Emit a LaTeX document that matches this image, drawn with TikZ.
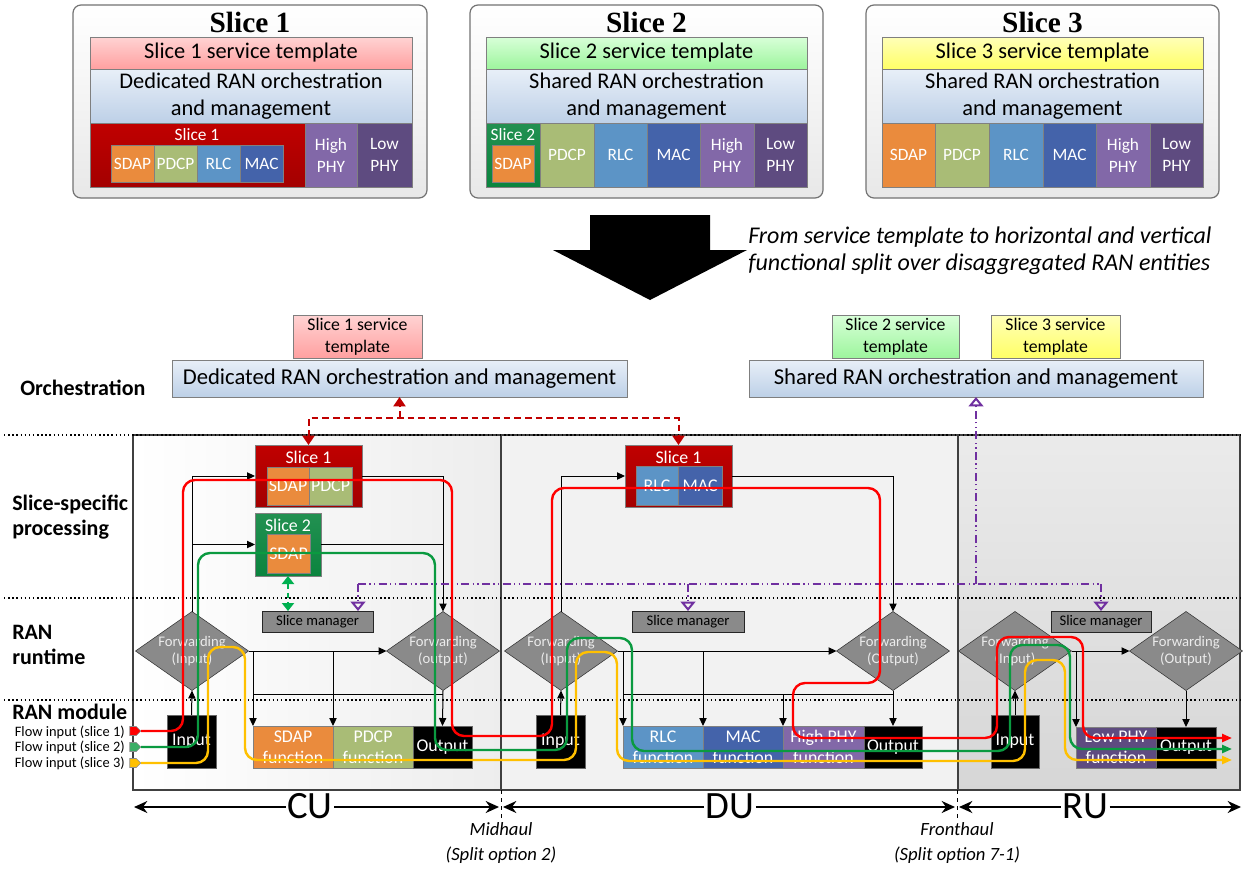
\documentclass[tikz,border=0pt]{standalone}
\usepackage{fontspec}
\setmainfont{Carlito}
\newfontfamily\ttlfont{Liberation Serif}
\usetikzlibrary{shapes.geometric,shapes.symbols,arrows.meta,calc}

\definecolor{sOneT}{HTML}{FFD3D3}
\definecolor{sOneB}{HTML}{FFA0A0}
\definecolor{sTwoT}{HTML}{D8FFD8}
\definecolor{sTwoB}{HTML}{9DF59D}
\definecolor{sThrT}{HTML}{FFFFB8}
\definecolor{sThrB}{HTML}{FFFF66}
\definecolor{orT}{HTML}{E8EFF8}
\definecolor{orB}{HTML}{BDD0E7}
\definecolor{cSDAP}{HTML}{EA8B3D}
\definecolor{cPDCP}{HTML}{A9BC76}
\definecolor{cRLC}{HTML}{5C94C6}
\definecolor{cMAC}{HTML}{4463AA}
\definecolor{cHPHY}{HTML}{8268A8}
\definecolor{cLPHY}{HTML}{5E4B80}
\definecolor{slRed}{HTML}{C00000}
\definecolor{slGreen}{HTML}{0A843E}
\definecolor{fwdGray}{HTML}{8A8A8A}
\definecolor{flRed}{HTML}{FF0000}
\definecolor{flGreen}{HTML}{0A9A40}
\definecolor{flYel}{HTML}{FFC000}
\definecolor{dRed}{HTML}{C00000}
\definecolor{purp}{HTML}{7030A0}
\definecolor{gDash}{HTML}{00B050}
\definecolor{bGray}{HTML}{7F7F7F}

\newcommand\szTtl{\fontsize{22}{26}\selectfont}
\newcommand\szBar{\fontsize{16.8}{20}\selectfont}
\newcommand\szOrc{\fontsize{17}{20}\selectfont}
\newcommand\szSm{\fontsize{13}{16.5}\selectfont}
\newcommand\szIt{\fontsize{18}{20.25}\selectfont}
\newcommand\szTm{\fontsize{13.3}{16.5}\selectfont}
\newcommand\szLbl{\fontsize{16.5}{19}\selectfont}
\newcommand\szFlow{\fontsize{10.8}{13}\selectfont}
\newcommand\szMod{\fontsize{13.4}{15.75}\selectfont}
\newcommand\szFwd{\fontsize{11}{13}\selectfont}
\newcommand\szMgr{\fontsize{11}{13}\selectfont}
\newcommand\szAx{\fontsize{29}{32}\selectfont}
\newcommand\szSp{\fontsize{14}{19}\selectfont}

\newcommand\bx[7]{\node[#1, minimum width={(#5-#3)*0.75pt}, minimum height={(#6-#4)*0.75pt}] (#2) at ({(#3+#5)/2},{(#4+#6)/2}) {#7};}

\tikzset{
  bxb/.style={draw=bGray, line width=0.6pt, inner sep=0pt, outer sep=0pt, align=center},
  outerbox/.style={bxb, rounded corners=6pt, top color=white, bottom color=black!9, draw=black!55, line width=0.9pt},
  ttl/.style={font=\ttlfont\bfseries\szTtl, inner sep=0pt},
  tmA/.style={bxb, top color=sOneT, bottom color=sOneB},
  tmB/.style={bxb, top color=sTwoT, bottom color=sTwoB},
  tmC/.style={bxb, top color=sThrT, bottom color=sThrB},
  orb/.style={bxb, top color=orT, bottom color=orB},
  fn/.style={bxb, draw=black!50, text=white},
  smf/.style={fn, font=\szSm},
  mdf/.style={fn, font=\szMod},
  wt/.style={text=white, font=\szSm, inner sep=0pt},
  wtm/.style={text=white, font=\szMod, inner sep=0pt},
  redg/.style={bxb, draw=black!50, top color=slRed, bottom color=slRed!85!black},
  greeng/.style={bxb, draw=black!50, top color=slGreen!90!white, bottom color=slGreen},
  blackbox/.style={bxb, draw=black!60, fill=black, text=white, font=\szMod},
  lbl/.style={font=\bfseries\szLbl, inner sep=0pt, align=left, anchor=west},
  flowlbl/.style={font=\szFlow, inner sep=0pt, anchor=east},
  fwd/.style={shape=diamond, draw=black!80, fill=fwdGray, minimum width={113*0.75pt}, minimum height={79*0.75pt}, inner sep=0pt, outer sep=0pt},
  fwdt/.style={text=black!8, font=\szFwd, align=center, inner sep=0pt},
  smg/.style={bxb, draw=black!85, fill=fwdGray, font=\szMgr},
  panel/.style={bxb, draw=black!75, line width=1.1pt},
  sepline/.style={dotted, line width=1.1pt, black},
  blk/.style={black, line width=0.75pt},
  blkarr/.style={blk, -{Triangle[length=6pt,width=5.5pt]}},
  flowline/.style={line width=1.8pt, rounded corners=9pt, -{Triangle[length=7.5pt,width=6pt]}},
  marker/.style={shape=signal, signal to=east, draw=black!45, line width=0.4pt, minimum width={11*0.75pt}, minimum height={9*0.75pt}, inner sep=0pt},
  rdash/.style={dRed, line width=1.5pt, dash pattern=on 5pt off 3pt},
  purpl/.style={purp, line width=1.5pt, dash pattern=on 6pt off 2.5pt on 1pt off 2.5pt on 1pt off 2.5pt},
  purparr/.style={purpl, -{Triangle[open,length=7pt,width=11pt,line width=1.5pt]}},
  axlbl/.style={font=\szAx, fill=white, inner sep=1pt},
  axarr/.style={line width=1.4pt, -{Stealth[length=10pt,width=9pt]}},
  splbl/.style={font=\itshape\szSp, align=center, inner sep=0pt}
}

\begin{document}
\begin{tikzpicture}[x=0.75pt,y=-0.75pt]
\useasboundingbox (0,0) rectangle (1244,868);
\fill[white] (0,0) rectangle (1244,868);

% ---------------- Top slices ----------------
% Slice 1
\bx{outerbox}{slA}{73}{5}{427}{198}{}
\node[ttl] (slAt) at (250,22) {Slice 1};
\bx{tmA,font=\szBar}{slAtm}{90}{37}{412}{69}{Slice 1 service template}
\bx{orb,font=\szBar}{slAor}{90}{69}{412}{123}{Dedicated RAN orchestration\\and management}
\bx{redg}{slArd}{90}{123}{305}{187}{}
\node[wt] (slArdl) at (197,135) {Slice 1};
\bx{smf,fill=cSDAP}{slAa}{111}{145}{154}{182}{SDAP}
\bx{smf,fill=cPDCP}{slAb}{154}{145}{197}{182}{PDCP}
\bx{smf,fill=cRLC}{slAc}{197}{145}{240}{182}{RLC}
\bx{smf,fill=cMAC}{slAd}{240}{145}{283}{182}{MAC}
\bx{smf,fill=cHPHY}{slAe}{305}{123}{357}{187}{High\\PHY}
\bx{smf,fill=cLPHY}{slAf}{357}{123}{412}{187}{Low\\PHY}
% Slice 2
\bx{outerbox}{slB}{470}{5}{823}{198}{}
\node[ttl] (slBt) at (646.5,22) {Slice 2};
\bx{tmB,font=\szBar}{slBtm}{486}{37}{807}{69}{Slice 2 service template}
\bx{orb,font=\szBar}{slBor}{486}{69}{807}{123}{Shared RAN orchestration\\and management}
\bx{greeng}{slBgr}{486}{123}{540}{187}{}
\node[wt] (slBgrl) at (513,135) {Slice 2};
\bx{smf,fill=cSDAP}{slBa}{492}{145}{534}{182}{SDAP}
\bx{smf,fill=cPDCP}{slBb}{540}{123}{594}{187}{PDCP}
\bx{smf,fill=cRLC}{slBc}{594}{123}{647}{187}{RLC}
\bx{smf,fill=cMAC}{slBd}{647}{123}{700}{187}{MAC}
\bx{smf,fill=cHPHY}{slBe}{700}{123}{754}{187}{High\\PHY}
\bx{smf,fill=cLPHY}{slBf}{754}{123}{807}{187}{Low\\PHY}
% Slice 3
\bx{outerbox}{slC}{866}{5}{1219}{198}{}
\node[ttl] (slCt) at (1042.5,22) {Slice 3};
\bx{tmC,font=\szBar}{slCtm}{882}{37}{1203}{69}{Slice 3 service template}
\bx{orb,font=\szBar}{slCor}{882}{69}{1203}{123}{Shared RAN orchestration\\and management}
\bx{smf,fill=cSDAP}{slCa}{882}{123}{935}{187}{SDAP}
\bx{smf,fill=cPDCP}{slCb}{935}{123}{989}{187}{PDCP}
\bx{smf,fill=cRLC}{slCc}{989}{123}{1043}{187}{RLC}
\bx{smf,fill=cMAC}{slCd}{1043}{123}{1096}{187}{MAC}
\bx{smf,fill=cHPHY}{slCe}{1096}{123}{1150}{187}{High\\PHY}
\bx{smf,fill=cLPHY}{slCf}{1150}{123}{1203}{187}{Low\\PHY}

% big arrow
\fill[black] (590,215) -- (710,215) -- (710,250) -- (747,250) -- (650,300) -- (553,250) -- (590,250) -- cycle;
\node[font=\itshape\szIt, align=left, anchor=west, inner sep=0pt] (bigtxt) at (748,251) {From service template to horizontal and vertical\\functional split over disaggregated RAN entities};

% ---------------- Orchestration ----------------
\bx{tmA,font=\szTm}{oA}{293}{315}{422}{358}{Slice 1 service\\template}
\bx{orb,font=\szOrc}{ded}{172}{360}{627}{397}{Dedicated RAN orchestration and management}
\bx{tmB,font=\szTm}{oB}{832}{315}{959}{358}{Slice 2 service\\template}
\bx{tmC,font=\szTm}{oC}{991}{315}{1120}{358}{Slice 3 service\\template}
\bx{orb,font=\szOrc}{shared}{749}{360}{1203}{397}{Shared RAN orchestration and management}

% left labels
\node[lbl] (lOrch) at (20,388) {Orchestration};
\node[lbl] (lSlice) at (12,517) {Slice-specific\\processing};
\node[lbl] (lRun) at (12,645) {RAN\\runtime};
\node[lbl] (lMod) at (12,712) {RAN module};
\node[flowlbl] (lf1) at (125,732) {Flow input (slice 1)};
\node[flowlbl] (lf2) at (125,747) {Flow input (slice 2)};
\node[flowlbl] (lf3) at (125,763) {Flow input (slice 3)};

% ---------------- Panels ----------------
\bx{panel, left color=white, right color=black!7}{cu}{133}{435}{501}{790}{}
\bx{panel, fill=black!5}{du}{501}{435}{958}{790}{}
\bx{panel, top color=black!8, bottom color=black!16}{ru}{958}{435}{1240}{790}{}

\draw[sepline] (4,435) -- (1240,435);
\draw[sepline] (4,598) -- (1240,598);
\draw[sepline] (4,700) -- (1240,700);

% ---------------- CU ----------------
\bx{redg}{cuS1}{255}{445}{362}{507}{}
\node[wtm] (cuS1l) at (308.5,457) {Slice 1};
\bx{mdf,fill=cSDAP}{cuS1a}{267}{467}{309}{505}{SDAP}
\bx{mdf,fill=cPDCP}{cuS1b}{309}{467}{352}{505}{PDCP}
\bx{greeng}{cuS2}{255}{513}{321}{576}{}
\node[wtm] (cuS2l) at (288,525) {Slice 2};
\bx{mdf,fill=cSDAP}{cuS2a}{267}{534}{310}{573}{SDAP}

\node[fwd] (cuFin) at (192,651) {};
\node[fwdt] (cuFinT) at (cuFin) {Forwarding\\(Input)};
\node[fwd] (cuFout) at (443,651) {};
\node[fwdt] (cuFoutT) at (cuFout) {Forwarding\\(output)};
\bx{smg}{cuSM}{262}{611}{373}{632}{Slice manager}

\bx{blackbox}{cuIn}{167}{715}{216}{768}{Input}
\bx{mdf,fill=cSDAP}{cuF1}{253}{726}{333}{768}{SDAP\\function}
\bx{mdf,fill=cPDCP}{cuF2}{333}{726}{413}{768}{PDCP\\function}
\bx{blackbox}{cuOut}{413}{726}{472}{768}{Output}

% ---------------- DU ----------------
\bx{redg}{duS1}{625}{445}{732}{507}{}
\node[wtm] (duS1l) at (678.5,457) {Slice 1};
\bx{mdf,fill=cRLC}{duS1a}{636}{466}{678}{505}{RLC}
\bx{mdf,fill=cMAC}{duS1b}{678}{466}{722}{505}{MAC}

\node[fwd] (duFin) at (561,651) {};
\node[fwdt] (duFinT) at (duFin) {Forwarding\\(Input)};
\node[fwd] (duFout) at (893,651) {};
\node[fwdt] (duFoutT) at (duFout) {Forwarding\\(Output)};
\bx{smg}{duSM}{632}{611}{744}{632}{Slice manager}

\bx{blackbox}{duIn}{536}{715}{585}{768}{Input}
\bx{mdf,fill=cRLC}{duF1}{623}{726}{703}{768}{RLC\\function}
\bx{mdf,fill=cMAC}{duF2}{703}{726}{783}{768}{MAC\\function}
\bx{mdf,fill=cHPHY}{duF3}{783}{726}{864}{768}{High PHY\\function}
\bx{blackbox}{duOut}{864}{726}{922}{768}{Output}

% ---------------- RU ----------------
\node[fwd] (ruFin) at (1015,651) {};
\node[fwdt] (ruFinT) at (ruFin) {Forwarding\\(Input)};
\node[fwd] (ruFout) at (1186,651) {};
\node[fwdt] (ruFoutT) at (ruFout) {Forwarding\\(Output)};
\bx{smg}{ruSM}{1051}{611}{1151}{632}{Slice manager}

\bx{blackbox}{ruIn}{991}{715}{1039}{768}{Input}
\bx{mdf,fill=cLPHY}{ruF1}{1076}{727}{1156}{768}{Low PHY\\function}
\bx{blackbox}{ruOut}{1156}{727}{1216}{768}{Output}

% ---------------- black runtime arrows ----------------
\coordinate (retY) at (0,694);
% CU
\draw[blkarr] (cuIn.north) -- (cuFin.south);
\draw[blkarr] (cuFin.north) |- (cuS1.west);
\draw[blkarr] (cuFin.north |- cuS2.west) -- (cuS2.west);
\draw[blkarr] (cuS1.east) -| (cuFout.north);
\draw[blk] (cuS2.east) -- (cuFout.north |- cuS2.east);
\draw[blkarr] (cuFin.east) -- (cuFout.west);
\draw[blkarr] (cuF1.north west |- cuFin.east) -- (cuF1.north west);
\draw[blkarr] (cuF2.north west |- cuFin.east) -- (cuF2.north west);
\draw[blk] (cuF1.north west |- retY) -- (cuFout.south |- retY);
\draw[blkarr] (cuFout.south) -- (cuOut.north);
% DU
\draw[blkarr] (duIn.north) -- (duFin.south);
\draw[blkarr] (duFin.north) |- (duS1.west);
\draw[blkarr] (duS1.east) -| (duFout.north);
\draw[blkarr] (duFin.east) -- (duFout.west);
\draw[blkarr] (duF1.north west |- duFin.east) -- (duF1.north west);
\draw[blkarr] (duF2.north west |- duFin.east) -- (duF2.north west);
\draw[blkarr] (duF3.north west |- retY) -- (duF3.north west);
\draw[blk] (duF1.north west |- retY) -- (duFout.south |- retY);
\draw[blkarr] (duFout.south) -- (duOut.north);
% RU
\draw[blkarr] (ruIn.north) -- (ruFin.south);
\draw[blkarr] (ruFin.east) -- (ruFout.west);
\draw[blkarr] (ruF1.north west |- ruFin.east) -- (ruF1.north west);
\draw[blkarr] (ruFout.south) -- (ruOut.north);

% ---------------- management connectors ----------------
\coordinate (rdJ) at (399.5,418);
\draw[rdash, {Triangle[length=7pt,width=9pt]}-{Triangle[length=7pt,width=9pt]}] (cuS1.north) |- (rdJ) -| (duS1.north);
\draw[rdash, -{Triangle[length=7pt,width=9pt]}] (rdJ) -- (ded.south);

\coordinate (pY) at (0,584);
\coordinate (pCU) at (358,611);
\draw[purparr] (shared.south |- pY) -- (shared.south);
\draw[purpl] (pCU |- pY) -- (ruSM.north |- pY);
\draw[purparr] (pCU |- pY) -- (pCU);
\draw[purparr] (duSM.north |- pY) -- (duSM.north);
\draw[purparr] (ruSM.north |- pY) -- (ruSM.north);

\draw[gDash, line width=1.8pt, dash pattern=on 4pt off 3pt, {Triangle[length=6pt,width=9pt]}-{Triangle[length=6pt,width=9pt]}] (cuS2.south) -- (cuS2.south |- cuSM.north);

% ---------------- flows ----------------
\node[marker, fill=flRed] (fm1) at (133,731) {};
\node[marker, fill=flGreen!80!white] (fm2) at (133,747) {};
\node[marker, fill=flYel] (fm3) at (133,763) {};
\coordinate (rEnd) at (1232,738);
\coordinate (gEnd) at (1232,749);
\coordinate (yEnd) at (1232,760);

\draw[flowline, flYel] (fm3.east) -- (208,763) -- (208,647) -- (245,647) -- (245,760) -- (576,760) -- (576,652) -- (617,652) -- (617,761) -- (1025,761) -- (1025,660) -- (1065,660) -- (1065,760) -- (yEnd);
\draw[flowline, flGreen] (fm2.east) -- (198,747) -- (198,553) -- (435,553) -- (435,750) -- (567,750) -- (567,638) -- (632,638) -- (632,751) -- (1010,751) -- (1010,645) -- (1070,645) -- (1070,749) -- (gEnd);
\draw[flowline, flRed] (fm1.east) -- (183,731) -- (183,480) -- (452,480) -- (452,736) -- (552,736) -- (552,488) -- (880,488) -- (880,683) -- (793,683) -- (793,738) -- (997,738) -- (997,637) -- (1083,637) -- (1083,738) -- (rEnd);

% ---------------- bottom axis ----------------
\coordinate (axL) at (134,807);
\coordinate (axA) at (499,807);
\coordinate (axB) at (503,807);
\coordinate (axC) at (955,807);
\coordinate (axD) at (959,807);
\coordinate (axR) at (1241,807);
\node[axlbl] (cuLab) at (310,806) {CU};
\node[axlbl] (duLab) at (730,806) {DU};
\node[axlbl] (ruLab) at (1085,806) {RU};
\draw[axarr] (cuLab.west |- axL) -- (axL);
\draw[axarr] (cuLab.east |- axL) -- (axA);
\draw[axarr] (duLab.west |- axL) -- (axB);
\draw[axarr] (duLab.east |- axL) -- (axC);
\draw[axarr] (ruLab.west |- axL) -- (axD);
\draw[axarr] (ruLab.east |- axL) -- (axR);
\draw[dashed, line width=0.6pt] (501,790) -- (501,822);
\draw[dashed, line width=0.6pt] (957,790) -- (957,822);
\node[splbl] (midh) at (501,843) {Midhaul\\(Split option 2)};
\node[splbl] (fronth) at (957,843) {Fronthaul\\(Split option 7-1)};

\end{tikzpicture}
\end{document}
